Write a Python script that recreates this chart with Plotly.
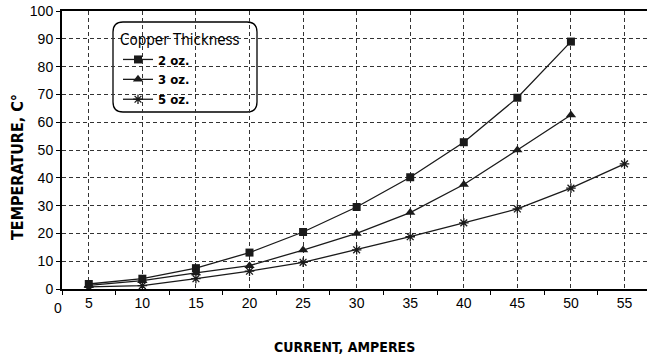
import plotly.graph_objects as go

current = [5, 10, 15, 20, 25, 30, 35, 40, 45, 50]
current_5oz = [5, 10, 15, 20, 25, 30, 35, 40, 45, 50, 55]
temp_2oz = [1.8, 3.7, 7.5, 13.1, 20.5, 29.5, 40.2, 52.8, 68.8, 89.0]
temp_3oz = [1.3, 3.0, 5.8, 8.4, 14.0, 20.0, 27.5, 37.6, 50.0, 62.6]
temp_5oz = [0.8, 1.2, 3.7, 6.4, 9.6, 14.1, 18.8, 23.8, 28.8, 36.3, 45.0]
x_ticks = [5, 10, 15, 20, 25, 30, 35, 40, 45, 50, 55]
y_ticks = [0, 10, 20, 30, 40, 50, 60, 70, 80, 90, 100]

NARROW = "Liberation Sans Narrow, DejaVu Sans Condensed, Arial Narrow, sans-serif"
REG = "Liberation Sans, Arial, sans-serif"
LC = "#1a1a1a"

L, R, T, B = 62, 0, 11, 71
W, H = 647, 360
plot_w = W - L - R
plot_h = H - T - B


def px(xp):
    return (xp - L) / plot_w


def py(yp):
    return (H - B - yp) / plot_h


fig = go.Figure()
fig.add_trace(go.Scatter(x=current, y=temp_2oz, name="<b>2 oz.</b>", mode="lines+markers",
                         line=dict(color=LC, width=1.3),
                         marker=dict(symbol="square", size=8, color=LC)))
fig.add_trace(go.Scatter(x=current, y=temp_3oz, name="<b>3 oz.</b>", mode="lines+markers",
                         line=dict(color=LC, width=1.3),
                         marker=dict(symbol="triangle-up", size=9, color=LC)))
fig.add_trace(go.Scatter(x=current_5oz, y=temp_5oz, name="<b>5 oz.</b>", mode="lines+markers",
                         line=dict(color=LC, width=1.3),
                         marker=dict(symbol="asterisk-open", size=8, color=LC,
                                     line=dict(color=LC, width=1.3))))

x0, x1 = px(113), px(257)
y0, y1 = py(112), py(22)
rx, ry = 10 / plot_w, 10 / plot_h
box_path = (
    f"M {x0+rx},{y1} L {x1-rx},{y1} Q {x1},{y1} {x1},{y1-ry} L {x1},{y0+ry} "
    f"Q {x1},{y0} {x1-rx},{y0} L {x0+rx},{y0} Q {x0},{y0} {x0},{y0+ry} "
    f"L {x0},{y1-ry} Q {x0},{y1} {x0+rx},{y1} Z")

fig.update_layout(
    width=W, height=H,
    margin=dict(l=L, r=R, t=T, b=B, autoexpand=False),
    paper_bgcolor="white", plot_bgcolor="white",
    showlegend=True,
    legend=dict(
        x=px(118), y=py(25), xanchor="left", yanchor="top",
        bgcolor="rgba(0,0,0,0)",
        font=dict(family=NARROW, size=13, color="black"),
        title=dict(text="Copper Thickness", font=dict(family=NARROW, size=15, color="black"), side="top"),
        tracegroupgap=0, itemwidth=30,
    ),
    xaxis=dict(
        range=[2.5, 57.1], automargin=False,
        tickvals=x_ticks, ticktext=[str(v) for v in x_ticks],
        ticks="", showgrid=True, gridcolor="#333", griddash="4px,3px", gridwidth=1,
        showline=True, linecolor="black", linewidth=2, mirror=True,
        tickfont=dict(family=REG, size=14, color="black"),
        minor=dict(tickvals=[2.5 + 5 * i for i in range(12)], ticks="outside", ticklen=4,
                   tickcolor="black", showgrid=False),
        zeroline=False,
    ),
    yaxis=dict(
        range=[0, 100], automargin=False,
        tickvals=y_ticks,
        ticks="outside", ticklen=4, tickcolor="black",
        showgrid=True, gridcolor="#333", griddash="4px,3px", gridwidth=1,
        showline=True, linecolor="black", linewidth=2,
        tickfont=dict(family=REG, size=14, color="black"),
        zeroline=False,
    ),
    shapes=[dict(type="path", xref="paper", yref="paper", path=box_path,
                 line=dict(color="black", width=1.3), fillcolor="white", layer="below")],
    annotations=[
        dict(text="0", x=px(58), y=py(308), xref="paper", yref="paper", showarrow=False,
             xanchor="center", yanchor="middle",
             font=dict(family=REG, size=14, color="black")),
        dict(text="<b>CURRENT, AMPERES</b>", xref="paper", yref="paper", x=px(344), y=py(347),
             xanchor="center", yanchor="middle", showarrow=False,
             font=dict(family=NARROW, size=14, color="black")),
        dict(text="<b>TEMPERATURE, C°</b>", xref="paper", yref="paper", x=px(17), y=py(167),
             textangle=-90, xanchor="center", yanchor="middle", showarrow=False,
             font=dict(family=NARROW, size=16, color="black")),
    ],
)

fig.write_html("out.html", config={"displayModeBar": False},
               post_script="document.body.style.margin='0px';")
